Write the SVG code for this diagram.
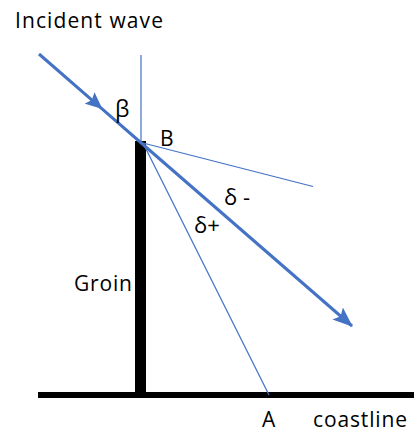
<svg xmlns="http://www.w3.org/2000/svg" width="414" height="432" viewBox="0 0 414 432">
<style>
.lbl{font-family:"Open Sans","Liberation Sans",sans-serif;font-size:21px;fill:#000}
.thin{stroke:#4472C4;stroke-width:1.2;fill:none}
.thick{stroke:#4472C4;stroke-width:3;fill:none}
</style>
<defs>
<marker id="arrM" markerUnits="userSpaceOnUse" markerWidth="17" markerHeight="15" viewBox="0 0 17 15" refX="15" refY="7.5" orient="auto">
<path d="M0,0 L17,7.5 L0,15 L3,7.5 Z" fill="#4472C4"/>
</marker>
<marker id="arrE" markerUnits="userSpaceOnUse" markerWidth="20" markerHeight="16" viewBox="0 0 20 16" refX="19" refY="8" orient="auto">
<path d="M0,0 L20,8 L0,16 L4,8 Z" fill="#4472C4"/>
</marker>
</defs>
<g id="groin">
<rect x="135" y="141" width="11" height="254" fill="#000"/>
</g>
<g id="coast">
<rect x="38" y="392" width="376" height="6" fill="#000"/>
</g>
<g id="connectors">
<line class="thin" x1="141" y1="55" x2="141" y2="143"/>
<line class="thin" x1="143" y1="143" x2="313" y2="186.5"/>
<line class="thin" x1="143" y1="143" x2="269" y2="395"/>
<path class="thick" d="M39,54 L100.9,107.8 L143,144.5" marker-mid="url(#arrM)"/>
<path class="thick" d="M143,144.5 L352,326" marker-end="url(#arrE)"/>
</g>
<g id="labels">
<text class="lbl" x="15" y="28" textLength="148" lengthAdjust="spacing">Incident wave</text>
<text class="lbl" x="115" y="117" style="font-size:23px">β</text>
<text class="lbl" x="160" y="146">B</text>
<text class="lbl" x="224" y="205" style="font-size:22px">δ -</text>
<text class="lbl" x="194" y="233" style="font-size:22px">δ+</text>
<text class="lbl" x="74" y="291" textLength="58" lengthAdjust="spacing">Groin</text>
<text class="lbl" x="262" y="427">A</text>
<text class="lbl" x="313" y="427" textLength="94" lengthAdjust="spacing">coastline</text>
</g>
</svg>
